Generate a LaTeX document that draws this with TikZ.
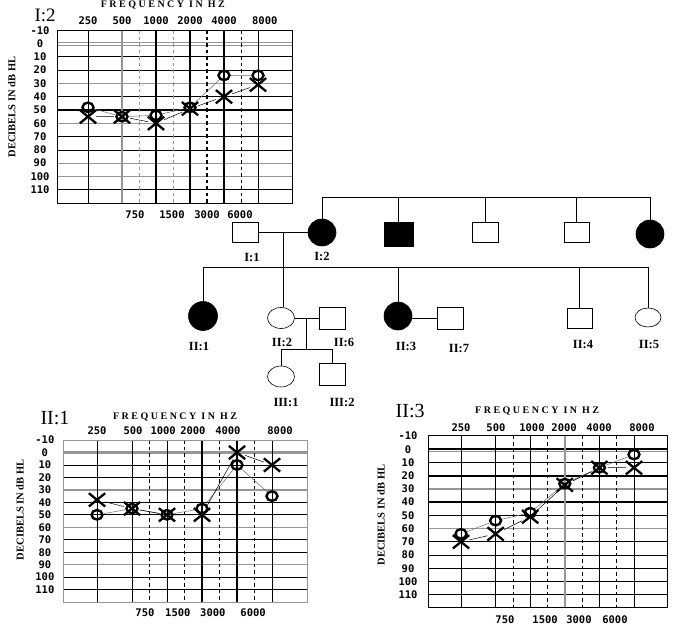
\documentclass[tikz,border=0pt]{standalone}
\usepackage{fontspec}
\setmainfont{Liberation Serif}
\newfontfamily\agfont{DejaVu Sans Mono}
\newfontfamily\hdrfont{Liberation Serif}[LetterSpace=25]
\usetikzlibrary{shapes.geometric,shapes.misc,calc}
\definecolor{GridGray}{RGB}{150,150,150}
\definecolor{LinkGray}{RGB}{110,110,110}
\tikzset{
  ag_thin/.style={line width=0.7pt},
  ag_bold/.style={line width=1.7pt},
  ag_gray/.style={draw=GridGray, line width=1.4pt},
  ag_dash/.style={line width=0.8pt, dash pattern=on 3.5pt off 3pt},
  ag_bdash/.style={line width=1.7pt, dash pattern=on 3.5pt off 3pt},
  ag_gdash/.style={draw=GridGray, line width=0.9pt, dash pattern=on 3.5pt off 3pt},
  ag_frame/.style={line width=1pt},
  ag_num/.style={font=\agfont\bfseries\fontsize{10.5}{11}\selectfont, inner sep=0pt},
  ag_hdr/.style={font=\hdrfont\bfseries\fontsize{10}{11}\selectfont, inner sep=0pt},
  ag_title/.style={font=\fontsize{20}{21}\selectfont, inner sep=0pt},
  ag_vlbl/.style={font=\bfseries\fontsize{10.5}{11}\selectfont, rotate=90, inner sep=0pt},
  ag_o/.style={ellipse, draw, line width=2.4pt,
    minimum width=11pt, minimum height=9.5pt, inner sep=0pt},
  ag_x/.style={cross out, draw, line width=2.3pt,
    minimum width=14pt, minimum height=11pt, inner sep=0pt},
  ag_lo/.style={draw=LinkGray, line width=0.5pt},
  ag_lx/.style={line width=0.5pt},
  pd_m/.style={rectangle, draw, line width=0.6pt,
    minimum width=26pt, minimum height=20pt, inner sep=0pt},
  pd_f/.style={ellipse, draw, line width=0.6pt,
    minimum width=27pt, minimum height=21pt, inner sep=0pt},
  pd_line/.style={line width=0.6pt},
  pd_lbl/.style={font=\bfseries\fontsize{12.5}{13}\selectfont, inner sep=0pt},
}

\begin{document}
\begin{tikzpicture}[x=1pt,y=-1pt]
\useasboundingbox[fill=white] (0,0) rectangle (685,629);

%% ── TOP LEFT: audiogram I:2 ─────────────────────────────────
\begin{scope}[shift={(88,43.5)},x=34pt,y=-13.3pt]
  \foreach \d in {1,2,4,7,8,11} \draw[ag_thin] (-0.91,\d) -- (6,\d);
  \foreach \d in {3,6,9,10} \draw[ag_gray] (-0.91,\d) -- (6,\d);
  \draw[ag_gray,line width=0.9pt] (-0.91,-0.08) -- (6,-0.08) (-0.91,0.16) -- (6,0.16);
  \draw[ag_bold] (-0.91,5) -- (6,5);
  \foreach \f in {0,5} \draw[ag_thin] (\f,-1) -- (\f,12);
  \draw[ag_gray] (1,-1) -- (1,12);
  \foreach \f in {2,3,4} \draw[ag_bold] (\f,-1) -- (\f,12);
  \foreach \f in {1.5,2.5} \draw[ag_gdash] (\f,-1) -- (\f,12);
  \draw[ag_bdash] (3.5,-1) -- (3.5,12);
  \draw[ag_dash] (4.5,-1) -- (4.5,12);
  \draw[ag_frame] (-0.91,-1) rectangle (6,12);

  \node[ag_title,font=\fontsize{19}{20}\selectfont] (tA) at (-1.26,-2.15) {I:2};
  \node[ag_hdr] (hA) at (2.2,-2.9) {FREQUENCY IN HZ};
  \foreach \f/\t in {0/250,1/500,2/1000,3/2000,4/4000,5.2/8000}
    \node[ag_num] (fA\t) at (\f,-1.69) {\t};
  \foreach \f/\t in {1.38/750,2.47/1500,3.5/3000,4.47/6000}
    \node[ag_num] (bA\t) at (\f,12.9) {\t};
  \foreach \d in {-10,0,10,...,110}
    \node[ag_num] (dA\d) at (-1.41,\d/10) {\d};
  \node[ag_vlbl] (vA) at (-2.24,4.77) {DECIBELS IN dB HL};

  \foreach \f/\d [count=\i] in {0/4.8,1/5.5,2/5.4,3/4.8,4/2.4,5/2.4}
    \node[ag_o] (aO\i) at (\f,\d) {};
  \foreach \f/\d [count=\i] in {0/5.5,1/5.5,2/6.0,3/4.9,4/4.0,5/3.1}
    \node[ag_x] (aX\i) at (\f,\d) {};
  \draw[ag_lo] (aO1)--(aO2)--(aO3)--(aO4)--(aO5)--(aO6);
  \draw[ag_lx] (aX1)--(aX2)--(aX3)--(aX4)--(aX5)--(aX6);
\end{scope}

%% ── BOTTOM LEFT: audiogram II:1 ─────────────────────────────
\begin{scope}[shift={(97,452.5)},x=35pt,y=-12.46pt]
  \foreach \d in {1,2,4,5,7,8,10,11} \draw[ag_thin] (-0.97,\d) -- (6,\d);
  \foreach \d in {3,6,9} \draw[ag_gray] (-0.97,\d) -- (6,\d);
  \draw[ag_gray,line width=2.2pt] (-0.97,0) -- (6,0);
  \foreach \f in {0,1,2,5} \draw[ag_thin] (\f,-1) -- (\f,12);
  \foreach \f in {3,4} \draw[ag_bold] (\f,-1) -- (\f,12);
  \foreach \f in {1.5,3.5} \draw[ag_dash] (\f,-1) -- (\f,12);
  \foreach \f in {2.5,4.5} \draw[ag_bdash] (\f,-1) -- (\f,12);
  \draw[ag_frame,draw=GridGray] (-0.97,-1) rectangle (6,12);

  \node[ag_title] (tB) at (-1.2,-2.77) {II:1};
  \node[ag_hdr] (hB) at (2.23,-2.85) {FREQUENCY IN HZ};
  \foreach \f/\t in {0/250,1.03/500,1.89/1000,2.74/2000,3.74/4000,5.23/8000}
    \node[ag_num] (fB\t) at (\f,-1.73) {\t};
  \foreach \f/\t in {1.37/750,2.31/1500,3.31/3000,4.46/6000}
    \node[ag_num] (bB\t) at (\f,12.88) {\t};
  \foreach \d in {-10,0,10,...,110}
    \node[ag_num] (dB\d) at (-1.49,\d/10) {\d};
  \node[ag_vlbl] (vB) at (-2.2,4.6) {DECIBELS IN dB HL};

  \foreach \f/\d [count=\i] in {0/5.0,1/4.5,2/5.0,3/4.5,4/1.0,5/3.5}
    \node[ag_o] (bO\i) at (\f,\d) {};
  \foreach \f/\d [count=\i] in {0/3.8,1/4.5,2/5.0,3/5.0,4/0,5/1.0}
    \node[ag_x] (bX\i) at (\f,\d) {};
  \draw[ag_lo] (bO1)--(bO2)--(bO3)--(bO4)--(bO5)--(bO6);
  \draw[ag_lx] (bX1)--(bX2)--(bX3)--(bX4)--(bX5)--(bX6);
\end{scope}

%% ── BOTTOM RIGHT: audiogram II:3 ────────────────────────────
\begin{scope}[shift={(461,449.2)},x=34.6pt,y=-13.23pt]
  \foreach \d in {1,5,7,8,9,11} \draw[ag_thin] (-0.95,\d) -- (5.98,\d);
  \foreach \d in {3,6} \draw[ag_gray] (-0.95,\d) -- (5.98,\d);
  \draw[ag_gray,line width=1pt] (-0.95,0.2) -- (5.98,0.2);
  \foreach \d in {0,2,4,10} \draw[ag_bold] (-0.95,\d) -- (5.98,\d);
  \foreach \f in {0,2,4,5} \draw[ag_thin] (\f,-1) -- (\f,12);
  \draw[ag_bold] (1,-1) -- (1,12);
  \draw[ag_gray,line width=1.8pt] (3,-1) -- (3,12);
  \foreach \f in {1.5,2.5,3.5,4.5} \draw[ag_dash] (\f,-1) -- (\f,12);
  \draw[ag_frame] (-0.95,-1) rectangle (5.98,12);

  \node[ag_title] (tC) at (-1.47,-2.89) {II:3};
  \node[ag_hdr] (hC) at (2.2,-2.89) {FREQUENCY IN HZ};
  \foreach \f/\t in {0/250,1.01/500,2.05/1000,2.98/2000,3.99/4000,5.23/8000}
    \node[ag_num] (fC\t) at (\f,-1.6) {\t};
  \foreach \f/\t in {1.27/750,2.43/1500,3.41/3000,4.45/6000}
    \node[ag_num] (bC\t) at (\f,12.9) {\t};
  \foreach \d in {-10,0,10,...,110}
    \node[ag_num] (dC\d) at (-1.53,\d/10) {\d};
  \node[ag_vlbl] (vC) at (-2.31,4.97) {DECIBELS IN dB HL};

  \foreach \f/\d [count=\i] in {0/6.4,1/5.4,2/4.8,3/2.6,4/1.4,5/0.4}
    \node[ag_o] (cO\i) at (\f,\d) {};
  \foreach \f/\d [count=\i] in {0/7.0,1/6.4,2/5.1,3/2.7,4/1.4,5/1.4}
    \node[ag_x] (cX\i) at (\f,\d) {};
  \draw[ag_lo] (cO1)--(cO2)--(cO3)--(cO4)--(cO5)--(cO6);
  \draw[ag_lx] (cX1)--(cX2)--(cX3)--(cX4)--(cX5)--(cX6);
\end{scope}

%% ── PEDIGREE ────────────────────────────────────────────────
\node[pd_m]  (I1) at (245.5,232.5) {};
\node[pd_f,fill=black,minimum width=28pt,minimum height=27pt] (I2) at (322,232.5) {};
\node[pd_m,fill=black,minimum width=29pt,minimum height=24pt] (I3) at (398.5,234) {};
\node[pd_m]  (I4) at (485,232) {};
\node[pd_m,minimum width=25pt] (I5) at (576.5,232) {};
\node[pd_f,fill=black,minimum width=28pt,minimum height=28pt] (I6) at (650,234) {};

\node[pd_f,fill=black,minimum width=29pt,minimum height=29pt] (II1) at (203,316) {};
\node[pd_f]  (II2) at (281,318) {};
\node[pd_m,minimum height=22pt] (II6) at (332,318) {};
\node[pd_f,fill=black,minimum width=28pt,minimum height=28pt] (II3) at (398,316) {};
\node[pd_m,minimum height=22pt] (II7) at (450,318) {};
\node[pd_m,minimum width=25pt] (II4) at (579.5,318) {};
\node[pd_f,minimum width=26pt,minimum height=19pt] (II5) at (648,317.5) {};
\node[pd_f]  (III1) at (281,376.5) {};
\node[pd_m,minimum height=22pt] (III2) at (332,374) {};

\coordinate (barI)   at (0,197);
\coordinate (barII)  at (0,267);
\coordinate (barIII) at (0,349);
\coordinate (mI)  at ($(I1.east)!0.5!(I2.west)$);
\coordinate (mII) at ($(II2.east)!0.5!(II6.west)$);

\draw[pd_line] (I2.north)--(I2.north |- barI)--(I6.north |- barI)--(I6.north);
\foreach \n in {I3,I4,I5} \draw[pd_line] (\n.north)--(\n.north |- barI);
\draw[pd_line] (I1.east)--(I2.west);
\draw[pd_line] (mI)--(mI |- II2.north);
\draw[pd_line] (II1.north)--(II1.north |- barII)--(II5.north |- barII)--(II5.north);
\foreach \n in {II3,II4} \draw[pd_line] (\n.north)--(\n.north |- barII);
\draw[pd_line] (II2.east)--(II6.west);
\draw[pd_line] (II7.west)--(II7.west -| II3.east);
\draw[pd_line] (mII)--(mII |- barIII);
\draw[pd_line] (III1.north)--(III1.north |- barIII)--(III2.north |- barIII)--(III2.north);

\node[pd_lbl] (lI1)   at (252,257)   {I:1};
\node[pd_lbl] (lI2)   at (322,256)   {I:2};
\node[pd_lbl] (lII1)  at (199,346)   {II:1};
\node[pd_lbl] (lII2)  at (282,342)   {II:2};
\node[pd_lbl] (lII6)  at (344,342)   {II:6};
\node[pd_lbl] (lII3)  at (406,346)   {II:3};
\node[pd_lbl] (lII7)  at (459,348)   {II:7};
\node[pd_lbl] (lII4)  at (583,344)   {II:4};
\node[pd_lbl] (lII5)  at (649,344)   {II:5};
\node[pd_lbl] (lIII1) at (286,402)   {III:1};
\node[pd_lbl] (lIII2) at (342,402)   {III:2};

\end{tikzpicture}
\end{document}
